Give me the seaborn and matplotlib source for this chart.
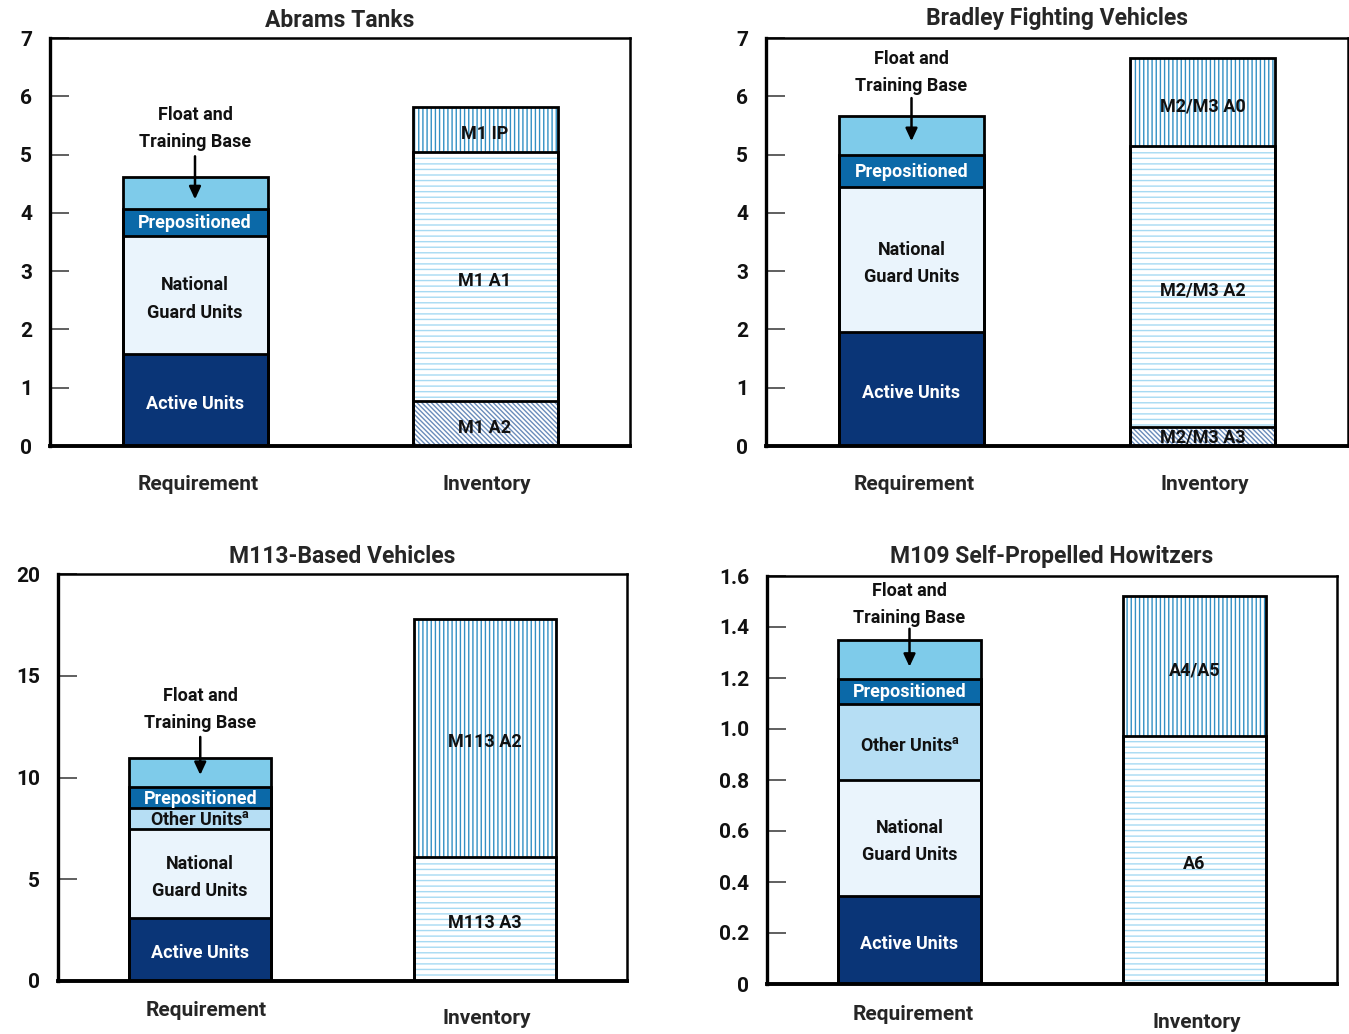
import matplotlib
matplotlib.use("Agg")
import matplotlib.pyplot as plt
import matplotlib.transforms as mtransforms
import seaborn as sns
import pandas as pd
import numpy as np

sns.set_style("white")
plt.rcParams['font.family'] = ['Roboto', 'DejaVu Sans']
plt.rcParams['font.weight'] = 'bold'
plt.rcParams['mathtext.fontset'] = 'custom'
plt.rcParams['mathtext.rm'] = 'Roboto:bold'
plt.rcParams['mathtext.bf'] = 'Roboto:bold'
plt.rcParams['mathtext.it'] = 'Roboto:bold'
plt.rcParams['hatch.linewidth'] = 1.0

# ---------------- data ----------------
categories = ["Requirement", "Inventory"]

titles = ["Abrams Tanks", "Bradley Fighting Vehicles",
          "M113-Based Vehicles", "M109 Self-Propelled Howitzers"]

# Requirement segments (bottom -> top)
abrams_req_labels = ["Active Units", "National\nGuard Units", "Prepositioned", "Float"]
abrams_req_values = [1.58, 2.02, 0.47, 0.54]
abrams_inv_labels = ["M1 A2", "M1 A1", "M1 IP"]
abrams_inv_values = [0.77, 4.27, 0.77]

bradley_req_labels = ["Active Units", "National\nGuard Units", "Prepositioned", "Float"]
bradley_req_values = [1.95, 2.50, 0.55, 0.66]
bradley_inv_labels = ["M2/M3 A3", "M2/M3 A2", "M2/M3 A0"]
bradley_inv_values = [0.33, 4.81, 1.52]

m113_req_labels = ["Active Units", "National\nGuard Units", "Other Units$^{\\mathrm{a}}$", "Prepositioned", "Float"]
m113_req_values = [3.1, 4.37, 1.03, 1.03, 1.43]
m113_inv_labels = ["M113 A3", "M113 A2"]
m113_inv_values = [6.09, 11.70]

m109_req_labels = ["Active Units", "National\nGuard Units", "Other Units$^{\\mathrm{a}}$", "Prepositioned", "Float"]
m109_req_values = [0.346, 0.454, 0.30, 0.097, 0.153]
m109_inv_labels = ["A6", "A4/A5"]
m109_inv_values = [0.972, 0.548]

y_max = [7, 7, 20, 1.6]
y_ticks = [[0, 1, 2, 3, 4, 5, 6, 7],
           [0, 1, 2, 3, 4, 5, 6, 7],
           [0, 5, 10, 15, 20],
           [0, 0.2, 0.4, 0.6, 0.8, 1.0, 1.2, 1.4, 1.6]]
y_ticklabels = [[str(v) for v in y_ticks[0]],
                [str(v) for v in y_ticks[1]],
                [str(v) for v in y_ticks[2]],
                ["0", "0.2", "0.4", "0.6", "0.8", "1.0", "1.2", "1.4", "1.6"]]

# ---------------- styles ----------------
req_style = {
    "Active Units": dict(fc="#0a3577", tc="white"),
    "National\nGuard Units": dict(fc="#eaf4fc", tc="#111111"),
    "Other Units$^{\\mathrm{a}}$": dict(fc="#b6def4", tc="#111111"),
    "Prepositioned": dict(fc="#0b69a8", tc="white"),
    "Float": dict(fc="#7ecbea", tc="#111111"),
}
inv_styles = {
    "diag": dict(hatch="\\" * 7, hc="#6a8cba"),
    "horiz": dict(hatch="---", hc="#a6daf3"),
    "vert": dict(hatch="||||", hc="#3390c4"),
}
panel_inv_styles = [["diag", "horiz", "vert"], ["diag", "horiz", "vert"],
                    ["horiz", "vert"], ["horiz", "vert"]]

panels = [
    (abrams_req_labels, abrams_req_values, abrams_inv_labels, abrams_inv_values),
    (bradley_req_labels, bradley_req_values, bradley_inv_labels, bradley_inv_values),
    (m113_req_labels, m113_req_values, m113_inv_labels, m113_inv_values),
    (m109_req_labels, m109_req_values, m109_inv_labels, m109_inv_values),
]

W, H = 1349, 1034
fig = plt.figure(figsize=(W / 100, H / 100), dpi=100)
axes_px = [(50, 38, 630, 446), (766, 38, 1348, 446),
           (58, 574, 627, 981), (767, 576, 1337, 984)]
title_pads = [8, 9, 8, 9.5]
xlabel_offsets = [(-38, -38), (-38, -38), (-30, -38), (-31, -38)]
xlabel_dx = [(3, 2), (3, 2), (6, 2), (4, 2)]
# float annotation geometry (pixels relative to bar top)
float_text_off = [35, 30, 35, 22]
arrow_tail_off = [21, 18, 21, 11]
arrow_tip_off = [22, 25, 17, 27]

for i, (rl, rv, il, iv) in enumerate(panels):
    l, t, r, b = axes_px[i]
    ax = fig.add_axes([l / W, 1 - b / H, (r - l) / W, (b - t) / H])
    px_per_unit = (b - t) / y_max[i]

    rcum = np.cumsum(rv)
    icum = np.cumsum(iv)

    # Fill pass: cumulative bars drawn from tallest to shortest
    for k in range(len(rv) - 1, -1, -1):
        df = pd.DataFrame({"cat": ["Requirement"], "val": [rcum[k]]})
        sns.barplot(data=df, x="cat", y="val", order=categories, ax=ax,
                    color=req_style[rl[k]]["fc"], saturation=1, width=0.5,
                    errorbar=None, linewidth=0, edgecolor=req_style[rl[k]]["fc"])
    for k in range(len(iv) - 1, -1, -1):
        st = inv_styles[panel_inv_styles[i][k]]
        df = pd.DataFrame({"cat": ["Inventory"], "val": [icum[k]]})
        sns.barplot(data=df, x="cat", y="val", order=categories, ax=ax,
                    color="white", saturation=1, width=0.5, errorbar=None,
                    linewidth=0, edgecolor=st["hc"], hatch=st["hatch"])
    # Outline pass
    for k in range(len(rv)):
        df = pd.DataFrame({"cat": ["Requirement"], "val": [rcum[k]]})
        sns.barplot(data=df, x="cat", y="val", order=categories, ax=ax,
                    color="black", fill=False, width=0.5, errorbar=None,
                    linewidth=2.0)
    for k in range(len(iv)):
        df = pd.DataFrame({"cat": ["Inventory"], "val": [icum[k]]})
        sns.barplot(data=df, x="cat", y="val", order=categories, ax=ax,
                    color="black", fill=False, width=0.5, errorbar=None,
                    linewidth=2.0)

    ax.set_xlim(-0.5, 1.5)
    ax.set_ylim(0, y_max[i])
    ax.set_xlabel("")
    ax.set_ylabel("")
    ax.set_xticks([])
    ax.set_yticks(y_ticks[i])
    ax.set_yticklabels(y_ticklabels[i], fontsize=15, fontweight='bold')
    ax.tick_params(axis='y', direction='in', length=14, width=1.2,
                   color='#444444', pad=13, left=True, labelcolor='#111111')
    for side, lw in [("left", 2.4), ("bottom", 2.8), ("top", 1.8), ("right", 1.8)]:
        ax.spines[side].set_visible(True)
        ax.spines[side].set_linewidth(lw)
        ax.spines[side].set_color("black")
    ax.set_title(titles[i], fontsize=16.5, fontweight='bold', pad=title_pads[i])

    def lab_transform(seg_h):
        dy = -4 if seg_h * px_per_unit > 35 else -1
        return mtransforms.offset_copy(ax.transData, fig=fig, x=0, y=dy, units='dots')

    # Requirement segment labels
    bottoms = np.concatenate([[0], rcum[:-1]])
    for k in range(len(rv)):
        if rl[k] == "Float":
            continue
        ax.text(0, bottoms[k] + rv[k] / 2, rl[k], ha='center', va='center',
                fontsize=13, fontweight='bold', color=req_style[rl[k]]["tc"],
                linespacing=1.65, transform=lab_transform(rv[k]))
    # Float annotation
    top = rcum[-1]
    tail_tr = mtransforms.offset_copy(ax.transData, fig=fig, x=0,
                                      y=arrow_tail_off[i], units='dots')
    tip_tr = mtransforms.offset_copy(ax.transData, fig=fig, x=0,
                                     y=-arrow_tip_off[i], units='dots')
    ax.annotate("", xy=(0, top), xycoords=tip_tr, xytext=(0, top), textcoords=tail_tr,
                arrowprops=dict(arrowstyle='-|>,head_length=0.75,head_width=0.35',
                                color='black', lw=1.8, shrinkA=0, shrinkB=0))
    for line, extra in [("Training Base", 0), ("Float and", 27)]:
        tr = mtransforms.offset_copy(ax.transData, fig=fig, x=0,
                                     y=float_text_off[i] + extra, units='dots')
        ax.text(0, top, line, transform=tr, ha='center', va='center',
                fontsize=13, fontweight='bold', color='#111111')

    # Inventory labels
    ibottoms = np.concatenate([[0], icum[:-1]])
    for k in range(len(iv)):
        ax.text(1, ibottoms[k] + iv[k] / 2, il[k], ha='center', va='center',
                fontsize=13, fontweight='bold', color='#111111',
                transform=lab_transform(iv[k]))

    # Category labels below axes
    for j, cat in enumerate(categories):
        ax.annotate(cat, xy=(j, 0), xycoords=('data', 'axes fraction'),
                    xytext=(xlabel_dx[i][j], xlabel_offsets[i][j]),
                    textcoords='offset pixels', ha='center', va='center',
                    fontsize=15, fontweight='bold', annotation_clip=False)

fig.savefig("out.png", dpi=100)
